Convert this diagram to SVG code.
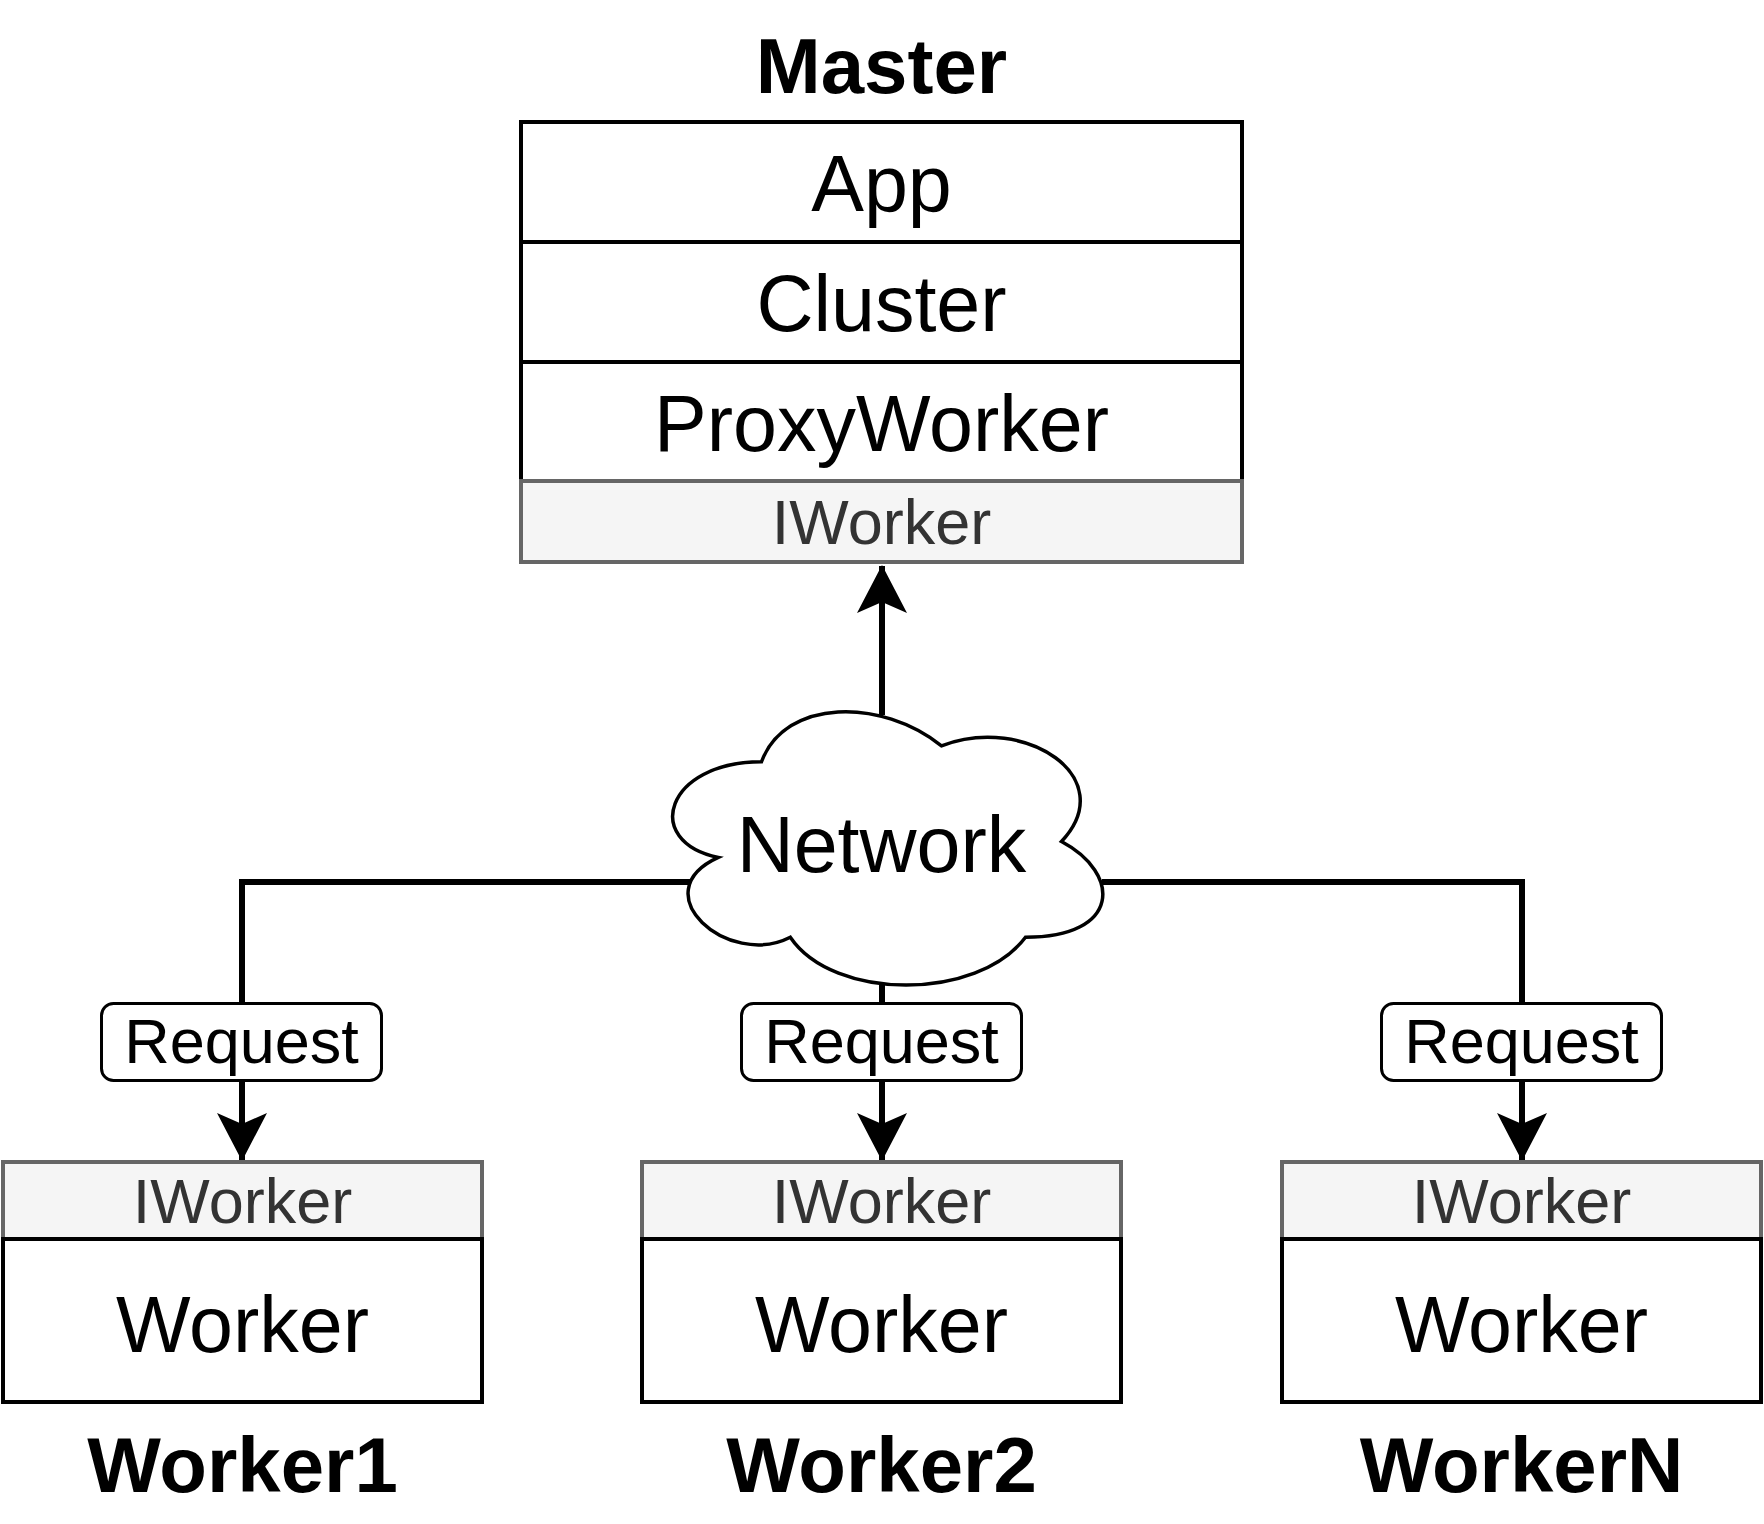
<svg xmlns="http://www.w3.org/2000/svg" width="1764" height="1524" viewBox="0 0 1764 1524">
<style>
.box{fill:#fff;stroke:#000;stroke-width:4}
.ibox{fill:#f5f5f5;stroke:#666;stroke-width:4}
.t{font-family:"Liberation Sans",Arial,sans-serif;font-size:79px;fill:#000;text-anchor:middle}
.it{font-family:"Liberation Sans",Arial,sans-serif;font-size:63px;fill:#333;text-anchor:middle}
.b{font-family:"Liberation Sans",Arial,sans-serif;font-size:78px;font-weight:bold;fill:#000;text-anchor:middle}
.lbl{fill:#fff;stroke:#000;stroke-width:3}
.lt{font-family:"Liberation Sans",Arial,sans-serif;font-size:63px;fill:#000;text-anchor:middle}
.edge{fill:none;stroke:#000;stroke-width:6}
</style>
<defs>
<marker id="arr" markerUnits="userSpaceOnUse" viewBox="0 0 48 50" refX="47" refY="25" markerWidth="48" markerHeight="50" orient="auto">
<path d="M0,0 L48,25 L0,50 L11,25 Z" fill="#000"/>
</marker>
</defs>
<rect width="1764" height="1524" fill="#fff"/>

<g id="master">
<text class="b" x="881.5" y="93">Master</text>
<rect class="box" x="521" y="122" width="721" height="120"/>
<text class="t" x="881.5" y="211">App</text>
<rect class="box" x="521" y="242" width="721" height="120"/>
<text class="t" x="881.5" y="331">Cluster</text>
<rect class="box" x="521" y="362" width="721" height="120"/>
<text class="t" x="881.5" y="451">ProxyWorker</text>
<rect class="ibox" x="521" y="481" width="721" height="81"/>
<text class="it" x="881.5" y="544">IWorker</text>
</g>

<g id="connectors">
<path class="edge" d="M882,715 L882,566" marker-end="url(#arr)"/>
<path class="edge" d="M690,882 L242,882 L242,1160" marker-end="url(#arr)"/>
<path class="edge" d="M882,985 L882,1160" marker-end="url(#arr)"/>
<path class="edge" d="M1102,882 L1522,882 L1522,1160" marker-end="url(#arr)"/>
<g id="label1"><rect class="lbl" x="101.5" y="1003.5" width="280" height="77" rx="12"/><text class="lt" x="241.5" y="1063">Request</text></g>
<g id="label2"><rect class="lbl" x="741.5" y="1003.5" width="280" height="77" rx="12"/><text class="lt" x="881.5" y="1063">Request</text></g>
<g id="label3"><rect class="lbl" x="1381.5" y="1003.5" width="280" height="77" rx="12"/><text class="lt" x="1521.5" y="1063">Request</text></g>
</g>

<g id="network">
<path d="M761.5,761.75 C665.5,761.75 641.5,841.5 718.3,857.45 C641.5,892.54 727.9,969.1 790.3,937.2 C833.5,1001 977.5,1001 1025.5,937.2 C1121.5,937.2 1121.5,873.4 1061.5,841.5 C1121.5,777.7 1025.5,713.9 941.5,745.8 C881.5,697.95 785.5,697.95 761.5,761.75 Z" fill="#fff" stroke="#000" stroke-width="3.5"/>
<text class="t" x="881.5" y="872">Network</text>
</g>

<g id="worker1">
<rect class="ibox" x="3" y="1162" width="479" height="77"/>
<text class="it" x="242.5" y="1223">IWorker</text>
<rect class="box" x="3" y="1239" width="479" height="163"/>
<text class="t" x="242.5" y="1352">Worker</text>
<text class="b" x="242.5" y="1492">Worker1</text>
</g>

<g id="worker2">
<rect class="ibox" x="642" y="1162" width="479" height="77"/>
<text class="it" x="881.5" y="1223">IWorker</text>
<rect class="box" x="642" y="1239" width="479" height="163"/>
<text class="t" x="881.5" y="1352">Worker</text>
<text class="b" x="881.5" y="1492">Worker2</text>
</g>

<g id="workerN">
<rect class="ibox" x="1282" y="1162" width="479" height="77"/>
<text class="it" x="1521.5" y="1223">IWorker</text>
<rect class="box" x="1282" y="1239" width="479" height="163"/>
<text class="t" x="1521.5" y="1352">Worker</text>
<text class="b" x="1521.5" y="1492">WorkerN</text>
</g>
</svg>
